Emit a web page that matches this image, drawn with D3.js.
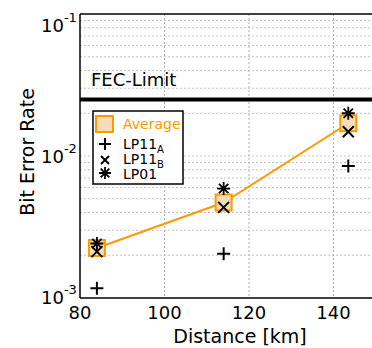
<!DOCTYPE html>
<html><head><meta charset="utf-8">
<script src="https://cdn.jsdelivr.net/npm/d3@7"></script>
<style>body{margin:0;background:#fff;}svg{display:block;font-family:"DejaVu Sans",Verdana,sans-serif;}</style>
</head><body>
<svg id="c" width="372" height="348"></svg>
<script>
const distances = [84, 114, 143.5];
const average = [2.25e-3, 4.7e-3, 1.7e-2];
const lp11a = [1.17e-3, 2.05e-3, 8.5e-3];
const lp11b = [2.12e-3, 4.35e-3, 1.48e-2];
const lp01 = [2.42e-3, 5.9e-3, 2.0e-2];
const fecLimit = 2.5e-2;
const xTicks = [80, 100, 120, 140];
const yTicks = [1e-3, 1e-2, 1e-1];
const yTickExp = ["-3", "-2", "-1"];

const svg = d3.select("#c");
const L = 80, T = 14, B = 298;
const x = d3.scaleLinear().domain([80, 150]).range([L, L + 70 * 4.225]);
const y = d3.scaleLog().domain([1e-3, 1e-1]).range([B, T]);
const R = x(150);

// grid
const minor = [];
for (let e = -3; e < -1; e++) for (let m = 1; m < 10; m++) minor.push(m * Math.pow(10, e));
svg.append("g").selectAll("line").data(minor.filter(v => v > 1e-3)).join("line")
  .attr("x1", L).attr("x2", R).attr("y1", d => y(d)).attr("y2", d => y(d))
  .attr("stroke", "#c4c4c4").attr("stroke-width", 1).attr("stroke-dasharray", "2,2");
svg.append("g").selectAll("line").data(xTicks.slice(1)).join("line")
  .attr("x1", d => x(d)).attr("x2", d => x(d)).attr("y1", T).attr("y2", B)
  .attr("stroke", "#b0b0b0").attr("stroke-width", 1).attr("stroke-dasharray", "2,2");

// axes frame
svg.append("line").attr("x1", L).attr("x2", L).attr("y1", T).attr("y2", B).attr("stroke", "#000").attr("stroke-width", 1.5);
svg.append("line").attr("x1", L).attr("x2", R).attr("y1", B).attr("y2", B).attr("stroke", "#000").attr("stroke-width", 1.5);
svg.append("line").attr("x1", L).attr("x2", R).attr("y1", T).attr("y2", T).attr("stroke", "#000").attr("stroke-width", 1.5);

// x tick labels
svg.append("g").selectAll("text").data(xTicks).join("text")
  .attr("x", d => x(d)).attr("y", 319).attr("text-anchor", "middle")
  .attr("font-size", 18).text(d => d);
// y tick labels
const yOff = [6, 7, 18];
const yl = svg.append("g").selectAll("text").data(yTicks).join("text")
  .attr("x", 41).attr("y", (d, i) => y(d) + yOff[i]).attr("font-size", 18);
yl.append("tspan").text("10");
yl.append("tspan").attr("dy", -10).attr("font-size", 13).text((d, i) => yTickExp[i]);

svg.append("text").attr("x", 240).attr("y", 343).attr("text-anchor", "middle")
  .attr("font-size", 19).text("Distance [km]");
svg.append("text").attr("transform", `translate(34,152) rotate(-90)`)
  .attr("text-anchor", "middle").attr("font-size", 19).text("Bit Error Rate");

// FEC limit
svg.append("line").attr("x1", L).attr("x2", R).attr("y1", y(fecLimit)).attr("y2", y(fecLimit))
  .attr("stroke", "#000").attr("stroke-width", 4);
svg.append("text").attr("x", 91).attr("y", 86).attr("font-size", 18).text("FEC-Limit");

const orange = "#ff9900", fill = "#f4dcb6";
// average
const pts = distances.map((d, i) => [d, average[i]]);
svg.append("path").attr("d", d3.line().x(d => x(d[0])).y(d => y(d[1]))(pts))
  .attr("fill", "none").attr("stroke", orange).attr("stroke-width", 2);
const sq = 16;
svg.append("g").selectAll("rect").data(pts).join("rect")
  .attr("x", d => x(d[0]) - sq / 2).attr("y", d => y(d[1]) - sq / 2)
  .attr("width", sq).attr("height", sq).attr("fill", fill).attr("stroke", orange).attr("stroke-width", 2);

function plus(g, cx, cy, r) {
  g.append("path").attr("d", `M${cx - r},${cy}H${cx + r}M${cx},${cy - r}V${cy + r}`)
    .attr("stroke", "#000").attr("stroke-width", 2).attr("fill", "none");
}
function cross(g, cx, cy, r) {
  g.append("path").attr("d", `M${cx - r},${cy - r}L${cx + r},${cy + r}M${cx - r},${cy + r}L${cx + r},${cy - r}`)
    .attr("stroke", "#000").attr("stroke-width", 2).attr("fill", "none");
}
function star(g, cx, cy, r) {
  const k = r * 0.72;
  g.append("path").attr("d", `M${cx - r},${cy}H${cx + r}M${cx},${cy - r}V${cy + r}M${cx - k},${cy - k}L${cx + k},${cy + k}M${cx - k},${cy + k}L${cx + k},${cy - k}`)
    .attr("stroke", "#000").attr("stroke-width", 1.8).attr("fill", "none");
}
const mg = svg.append("g");
distances.forEach((d, i) => plus(mg, x(d), y(lp11a[i]), 6.5));
distances.forEach((d, i) => cross(mg, x(d), y(lp11b[i]), 5.5));
distances.forEach((d, i) => star(mg, x(d), y(lp01[i]), 6.5));

// legend
const lg = svg.append("g");
lg.append("rect").attr("x", 93).attr("y", 111).attr("width", 90).attr("height", 73)
  .attr("fill", "#fff").attr("stroke", "#000").attr("stroke-width", 1.5);
lg.append("rect").attr("x", 96).attr("y", 116).attr("width", 17).attr("height", 16)
  .attr("fill", fill).attr("stroke", orange).attr("stroke-width", 2);
lg.append("text").attr("x", 123).attr("y", 129).attr("font-size", 14).attr("fill", orange).text("Average");
plus(lg, 105, 144, 6);
const t1 = lg.append("text").attr("x", 123).attr("y", 149).attr("font-size", 14);
t1.append("tspan").text("LP11"); t1.append("tspan").attr("dy", 4).attr("font-size", 10).text("A");
cross(lg, 105, 160, 4);
const t2 = lg.append("text").attr("x", 123).attr("y", 164).attr("font-size", 14);
t2.append("tspan").text("LP11"); t2.append("tspan").attr("dy", 4).attr("font-size", 10).text("B");
star(lg, 105, 173, 6);
lg.append("text").attr("x", 123).attr("y", 179).attr("font-size", 14).text("LP01");
</script>
</body></html>
